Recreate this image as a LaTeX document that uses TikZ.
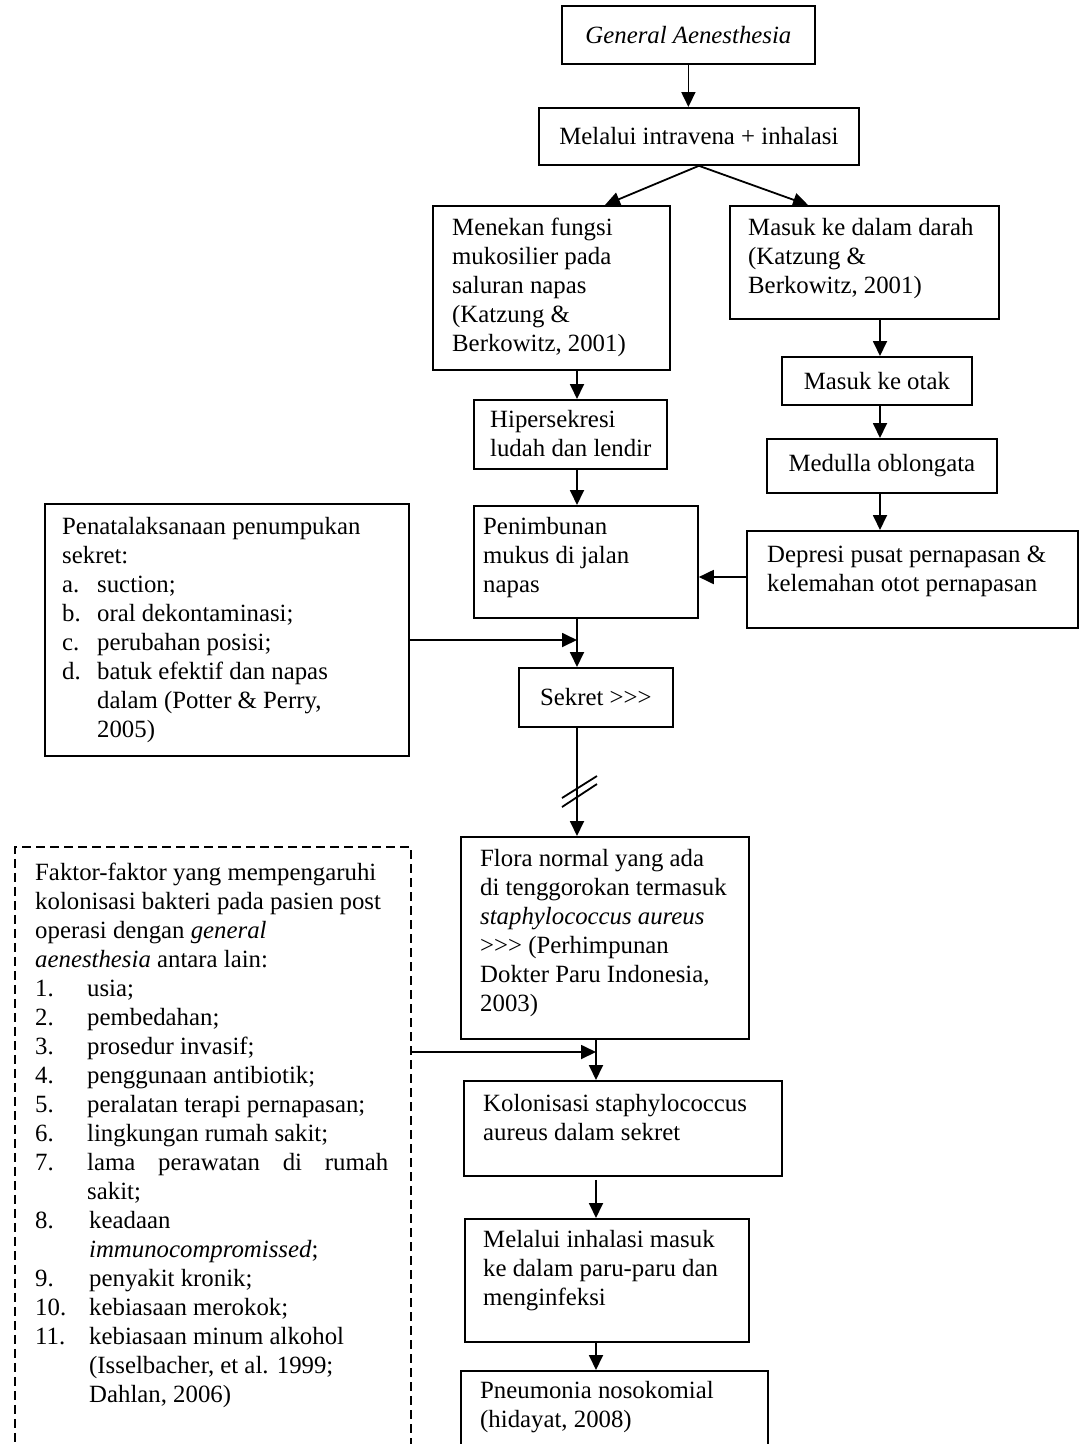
\documentclass[tikz,border=0pt]{standalone}
\usepackage{fontspec}
\setmainfont{Liberation Serif}
\usetikzlibrary{arrows.meta,calc}
\newcommand{\myfs}{\fontsize{24.8}{29}\selectfont}
\begin{document}
\begin{tikzpicture}[x=1pt,y=-1pt,
  box/.style={draw, line width=1.8pt, anchor=north west, inner sep=0pt, font=\myfs},
  dbox/.style={box, dash pattern=on 9pt off 5pt},
  txt/.style={anchor=north west, inner sep=0pt, align=left, font=\myfs, execute at begin node=\strut},
  arr/.style={line width=1.8pt, -{Triangle[length=15pt,width=14pt]}},
  ln/.style={line width=1.8pt}]
\clip (0,0) rectangle (1079,1444);
\fill[white] (0,0) rectangle (1079,1444);
% boxes
\node[box, minimum width=253pt, minimum height=58pt] (g) at (561,5) {\itshape General Aenesthesia};
\node[box, minimum width=320pt, minimum height=57pt] (m) at (538,107) {Melalui intravena + inhalasi};
\node[box, minimum width=237pt, minimum height=164pt] (menekan) at (432,205) {};
\node[box, minimum width=269pt, minimum height=113pt] (darah) at (729,205) {};
\node[box, minimum width=193pt, minimum height=69pt] (hiper) at (473,399) {};
\node[box, minimum width=190pt, minimum height=48pt] (otak) at (781,356) {Masuk ke otak};
\node[box, minimum width=230pt, minimum height=54pt] (medulla) at (766,438) {Medulla oblongata};
\node[box, minimum width=224pt, minimum height=112pt] (penimbunan) at (473,505) {};
\node[box, minimum width=331pt, minimum height=97pt] (depresi) at (746,530) {};
\node[box, minimum width=364pt, minimum height=252pt] (penata) at (44,503) {};
\node[box, minimum width=154pt, minimum height=59pt] (sekret) at (518,667) {Sekret >{}>{}>};
\node[box, minimum width=288pt, minimum height=202pt] (flora) at (460,836) {};
\node[dbox, minimum width=396pt, minimum height=624pt] (faktor) at (14,846) {};
\node[box, minimum width=318pt, minimum height=95pt] (kolon) at (463,1080) {};
\node[box, minimum width=284pt, minimum height=123pt] (inh) at (464,1218) {};
\node[box, minimum width=307pt, minimum height=100pt] (pneu) at (460,1370) {};
% texts
\node[txt] (tmenekan) at (452,218) {Menekan fungsi\\mukosilier pada\\saluran napas\\(Katzung \&\\Berkowitz, 2001)};
\node[txt] (tdarah) at (748,218) {Masuk ke dalam darah\\(Katzung \&\\Berkowitz, 2001)};
\node[txt] (thiper) at (490,410) {Hipersekresi\\ludah dan lendir};
\node[txt] (tpenimbunan) at (483,517) {Penimbunan\\mukus di jalan\\napas};
\node[txt] (tdepresi) at (767,546) {Depresi pusat pernapasan \&\\kelemahan otot pernapasan};
\node[txt] (tpenata) at (62,517) {Penatalaksanaan penumpukan\\sekret:\\
\makebox[35pt][l]{a.}suction;\\
\makebox[35pt][l]{b.}oral dekontaminasi;\\
\makebox[35pt][l]{c.}perubahan posisi;\\
\makebox[35pt][l]{d.}batuk efektif dan napas\\
\hspace*{35pt}dalam (Potter \& Perry,\\
\hspace*{35pt}2005)};
\node[txt] (tflora) at (480,849) {Flora normal yang ada\\di tenggorokan termasuk\\\textit{staphylococcus aureus}\\>{}>{}> (Perhimpunan\\Dokter Paru Indonesia,\\2003)};
\node[txt] (tfaktor) at (35,863) {Faktor-faktor yang mempengaruhi\\kolonisasi bakteri pada pasien post\\operasi dengan \textit{general}\\\textit{aenesthesia} antara lain:\\
\makebox[52pt][l]{1.}usia;\\
\makebox[52pt][l]{2.}pembedahan;\\
\makebox[52pt][l]{3.}prosedur invasif;\\
\makebox[52pt][l]{4.}penggunaan antibiotik;\\
\makebox[52pt][l]{5.}peralatan terapi pernapasan;\\
\makebox[52pt][l]{6.}lingkungan rumah sakit;\\
\makebox[52pt][l]{7.}\makebox[301pt][s]{lama perawatan di rumah}\\
\hspace*{52pt}sakit;\\
\makebox[54pt][l]{8.}keadaan\\
\hspace*{54pt}\textit{immunocompromissed};\\
\makebox[54pt][l]{9.}penyakit kronik;\\
\makebox[54pt][l]{10.}kebiasaan merokok;\\
\makebox[54pt][l]{11.}kebiasaan minum alkohol\\
\hspace*{54pt}(Isselbacher, et al. 1999;\\
\hspace*{54pt}Dahlan, 2006)};
\node[txt] (tkolon) at (483,1094) {Kolonisasi staphylococcus\\aureus dalam sekret};
\node[txt] (tinh) at (483,1230) {Melalui inhalasi masuk\\ke dalam paru-paru dan\\menginfeksi};
\node[txt] (tpneu) at (480,1381) {Pneumonia nosokomial\\(hidayat, 2008)};
% helper coordinates
\coordinate (ca) at (577,0);
\coordinate (cb) at (880,0);
\coordinate (cc) at (596,0);
\coordinate (y640) at (0,640);
\coordinate (y1052) at (0,1052);
\coordinate (y577) at (0,577);
% connectors
\draw[arr] (g.south) -- (g.south |- m.north);
\draw[arr] (m.south) -- ([xshift=173pt]menekan.north west);
\draw[arr] (m.south) -- ([xshift=79pt]darah.north west);
\draw[arr] (menekan.south -| ca) -- (hiper.north -| ca);
\draw[arr] (hiper.south -| ca) -- (penimbunan.north -| ca);
\draw[arr] (penimbunan.south -| ca) -- (sekret.north -| ca);
\draw[arr] (penata.east |- y640) -- (ca |- y640);
\draw[arr] (darah.south -| cb) -- (otak.north -| cb);
\draw[arr] (otak.south -| cb) -- (medulla.north -| cb);
\draw[arr] (medulla.south -| cb) -- (depresi.north -| cb);
\draw[arr] (depresi.west |- y577) -- (penimbunan.east |- y577);
\draw[arr] (sekret.south -| ca) -- (flora.north -| ca);
\coordinate (sl) at (579,791);
\draw[ln] ($(sl)+(-17,7)$) -- ($(sl)+(18,-15)$);
\draw[ln] ($(sl)+(-17,16)$) -- ($(sl)+(18,-7)$);
\draw[arr] (flora.south -| cc) -- (kolon.north -| cc);
\draw[arr] (faktor.east |- y1052) -- (cc |- y1052);
\draw[arr] ([yshift=-3pt]kolon.south -| cc) -- (inh.north -| cc);
\draw[arr] (inh.south -| cc) -- (pneu.north -| cc);
\end{tikzpicture}
\end{document}
